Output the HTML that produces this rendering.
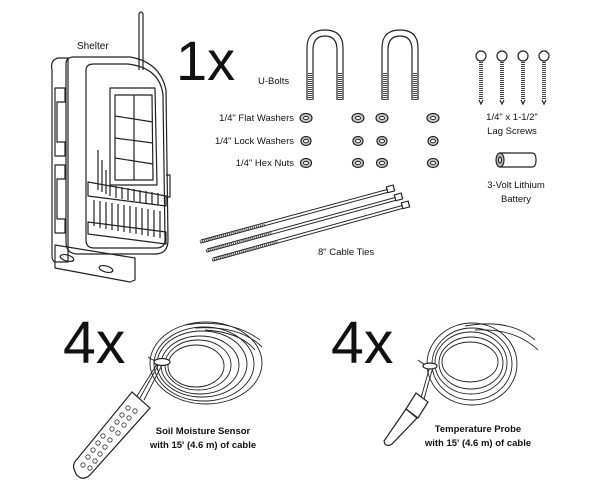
<!DOCTYPE html>
<html><head><meta charset="utf-8"><style>
html,body{margin:0;padding:0;background:#fff;}
svg{display:block}
text{font-family:"Liberation Sans",sans-serif;fill:#111}
</style></head><body>
<svg width="612" height="488" viewBox="0 0 612 488" xmlns="http://www.w3.org/2000/svg">
<g fill="none" stroke="#222" stroke-width="1.2" stroke-linejoin="round">
<!-- Shelter -->
<path d="M139,70 V14 Q141,10 143,14 V70"/>
<path d="M55,245 L135,258 L135,280 L130,282 L55,268 Z"/>
<ellipse cx="67" cy="258" rx="7" ry="3" transform="rotate(15 67 258)"/>
<ellipse cx="106" cy="269" rx="7" ry="3" transform="rotate(15 106 269)"/>
<path d="M52,70 Q50,60 58,58 L68,58 L68,262 L56,262 Q52,262 52,255 Z"/>
<path d="M55,88 h10 v14 h-8 v40 h8 v14 h-10 Z"/>
<path d="M55,165 h10 v14 h-8 v40 h8 v14 h-10 Z"/>
<path d="M66,64 Q66,57 74,57 L130,57 Q160,62 166,90 L168,240 Q168,254 155,254 L78,254 Q66,254 66,242 Z"/>
<path d="M86,70 Q86,64 94,64 L128,64 Q160,68 163,95 L165,240 Q165,248 156,248 L94,248 Q86,248 86,240 Z"/>
<path d="M110,88 L155,88 L157,185 L110,185 Z"/>
<path d="M115,95 L152,95 L153,180 L115,180 Z"/>
<path d="M134,95 V180 M115,116 L153,122 M115,138 L153,143 M115,158 L153,164"/>
<path d="M88,182 L166,196 L166,206 L88,196 Z"/>
<path d="M88,222 L166,232 L166,244 L88,234 Z"/>
<path d="M98,150 V190 M102,160 V192 M106,170 V194 M110,186 V196 M116,186 V198 M122,187 V199 M128,188 V200 M134,189 V201 M140,190 V202 M146,191 V203 M152,192 V204 M158,193 V205"/>
<path d="M94,200 V226 M100,201 V228 M106,202 V229 M112,203 V230 M118,204 V231 M124,205 V232 M130,206 V233 M136,207 V234 M142,208 V235 M148,209 V236 M154,210 V237 M160,211 V238"/>
<path d="M166,175 h4 v22 h-4"/>
<!-- U-bolts -->
<path d="M307,100 V48 Q307,30 325,30 Q343,30 343,48 V100 M313,100 V50 Q313,36 325,36 Q337,36 337,50 V100"/>
<path d="M382,100 V48 Q382,30 400,30 Q418,30 418,48 V100 M388,100 V50 Q388,36 400,36 Q412,36 412,50 V100"/>
</g>
<g stroke="#444" stroke-width="4" stroke-dasharray="1 1" fill="none">
<path d="M310,73 V100 M340,73 V100 M385,73 V100 M415,73 V100"/>
<path d="M481,60 V100 M502,60 V100 M523,60 V100 M544,60 V100"/>
</g>
<g fill="#fff" stroke="#222" stroke-width="1.2">
<circle cx="481" cy="56" r="5"/><circle cx="502" cy="56" r="5"/><circle cx="523" cy="56" r="5"/><circle cx="544" cy="56" r="5"/>
<path d="M479,100 L481,104 L483,100 M500,100 L502,104 L504,100 M521,100 L523,104 L525,100 M542,100 L544,104 L546,100" fill="none"/>
</g>
<!-- washers / nuts -->
<g fill="#ccc" stroke="#222" stroke-width="1.2">
<ellipse cx="306" cy="118" rx="6" ry="4.5"/><ellipse cx="358" cy="118" rx="6" ry="4.5"/><ellipse cx="382" cy="118" rx="6" ry="4.5"/><ellipse cx="433" cy="118" rx="6" ry="4.5"/>
<ellipse cx="306" cy="141" rx="5" ry="4.5"/><ellipse cx="358" cy="141" rx="5" ry="4.5"/><ellipse cx="382" cy="141" rx="5" ry="4.5"/><ellipse cx="433" cy="141" rx="5" ry="4.5"/>
<ellipse cx="306" cy="163" rx="5.5" ry="4.5"/><ellipse cx="358" cy="163" rx="5.5" ry="4.5"/><ellipse cx="382" cy="163" rx="5.5" ry="4.5"/><ellipse cx="433" cy="163" rx="5.5" ry="4.5"/>
</g>
<g fill="#fff" stroke="#222" stroke-width="1">
<ellipse cx="306" cy="118" rx="2.5" ry="1.6"/><ellipse cx="358" cy="118" rx="2.5" ry="1.6"/><ellipse cx="382" cy="118" rx="2.5" ry="1.6"/><ellipse cx="433" cy="118" rx="2.5" ry="1.6"/>
<ellipse cx="306" cy="141" rx="2.5" ry="1.8"/><ellipse cx="358" cy="141" rx="2.5" ry="1.8"/><ellipse cx="382" cy="141" rx="2.5" ry="1.8"/><ellipse cx="433" cy="141" rx="2.5" ry="1.8"/>
<ellipse cx="306" cy="163" rx="2.5" ry="1.8"/><ellipse cx="358" cy="163" rx="2.5" ry="1.8"/><ellipse cx="382" cy="163" rx="2.5" ry="1.8"/><ellipse cx="433" cy="163" rx="2.5" ry="1.8"/>
</g>
<!-- battery -->
<g fill="#fff" stroke="#222" stroke-width="1.2">
<path d="M500,153 H532 Q536,153 536,160 Q536,167 532,167 H500 Z"/>
<ellipse cx="500" cy="160" rx="4" ry="7" fill="#bbb"/>
<ellipse cx="500" cy="160" rx="1.5" ry="3"/>
</g>
<!-- cable ties -->
<g fill="none" stroke="#222" stroke-width="1">
<path d="M201,240 L389,189 M201,243 L389,192"/>
<path d="M207,249 L397,197 M207,252 L397,200"/>
<path d="M213,258 L404,205 M213,261 L404,208"/>
</g>
<g stroke="#444" stroke-width="3" stroke-dasharray="1 1"><path d="M200,242 L265,225 M206,251 L272,233 M212,260 L278,242"/></g>
<g fill="#fff" stroke="#222" stroke-width="1.2">
<rect x="387" y="186" width="7" height="6" transform="rotate(-15 390 189)"/>
<rect x="395" y="194" width="7" height="6" transform="rotate(-15 398 197)"/>
<rect x="402" y="202" width="7" height="6" transform="rotate(-15 405 205)"/>
</g>
<!-- coils -->
<g fill="none" stroke="#222" stroke-width="0.9">
<ellipse cx="206" cy="363" rx="56" ry="41"/><ellipse cx="204" cy="364" rx="50" ry="37"/><ellipse cx="202" cy="364" rx="45" ry="33"/><ellipse cx="200" cy="365" rx="39" ry="29"/><ellipse cx="198" cy="365" rx="33" ry="25"/><ellipse cx="196" cy="366" rx="28" ry="21"/>
<path d="M185,325 Q230,318 260,340 M195,328 Q240,325 262,347 M205,330 Q240,332 255,350"/>
<path d="M160,362 L140,398 M163,363 L144,400 M157,364 L137,396"/>
<ellipse cx="472" cy="364" rx="45" ry="41"/><ellipse cx="472" cy="364" rx="40" ry="36"/><ellipse cx="471" cy="363" rx="36" ry="31"/><ellipse cx="471" cy="363" rx="32" ry="26"/><ellipse cx="470" cy="362" rx="28" ry="20"/>
<path d="M465,326 Q510,318 535,340 M475,330 Q515,328 538,350"/>
<path d="M430,366 L421,398 M433,367 L424,399"/>
<path d="M148,357 Q155,362 162,362 M418,360 Q425,366 432,366"/>
</g>
<g fill="#fff" stroke="#222" stroke-width="1.2">
<ellipse cx="162" cy="362" rx="8" ry="3.5"/>
<ellipse cx="430" cy="366" rx="7" ry="3"/>
<path d="M132,392 L150,408 L90,475 Q82,482 76,474 L74,469 Q72,464 78,458 Z"/>
<path d="M416,393 L428,402 L418,418 L406,409 Z"/>
<path d="M406,409 L417,418 L392,444 Q388,447 385,444 L384,441 Z"/>
</g>
<g fill="#fff" stroke="#333" stroke-width="0.8">
<circle cx="103" cy="436" r="2.2"/><circle cx="110" cy="440" r="2.2"/><circle cx="98" cy="443" r="2.2"/><circle cx="105" cy="447" r="2.2"/><circle cx="112" cy="429" r="2.2"/><circle cx="118" cy="433" r="2.2"/><circle cx="117" cy="422" r="2.2"/><circle cx="124" cy="425" r="2.2"/><circle cx="93" cy="450" r="2.2"/><circle cx="100" cy="454" r="2.2"/><circle cx="88" cy="457" r="2.2"/><circle cx="95" cy="461" r="2.2"/><circle cx="83" cy="465" r="2.2"/><circle cx="90" cy="468" r="2.2"/><circle cx="122" cy="415" r="2.2"/><circle cx="129" cy="418" r="2.2"/><circle cx="128" cy="408" r="2.2"/><circle cx="135" cy="411" r="2.2"/>
</g>
<!-- texts -->
<text x="77" y="49" font-size="10">Shelter</text>
<text x="176" y="80" font-size="56">1x</text>
<text x="258" y="84" font-size="9.5">U-Bolts</text>
<text x="294" y="121" font-size="9.5" text-anchor="end">1/4" Flat Washers</text>
<text x="294" y="144" font-size="9.5" text-anchor="end">1/4" Lock Washers</text>
<text x="294" y="166" font-size="9.5" text-anchor="end">1/4" Hex Nuts</text>
<text x="512" y="120" font-size="9.5" text-anchor="middle">1/4" x 1-1/2"</text>
<text x="512" y="134" font-size="9.5" text-anchor="middle">Lag Screws</text>
<text x="516" y="188" font-size="9.5" text-anchor="middle">3-Volt Lithium</text>
<text x="516" y="202" font-size="9.5" text-anchor="middle">Battery</text>
<text x="318" y="255" font-size="9.5">8" Cable Ties</text>
<text x="63" y="363" font-size="59">4x</text>
<text x="331" y="363" font-size="59">4x</text>
<text x="203" y="434" font-size="9.5" font-weight="bold" text-anchor="middle">Soil Moisture Sensor</text>
<text x="203" y="448" font-size="9.5" font-weight="bold" text-anchor="middle">with 15' (4.6 m) of cable</text>
<text x="478" y="432" font-size="9.5" font-weight="bold" text-anchor="middle">Temperature Probe</text>
<text x="478" y="446" font-size="9.5" font-weight="bold" text-anchor="middle">with 15' (4.6 m) of cable</text>
</svg>
</body></html>
